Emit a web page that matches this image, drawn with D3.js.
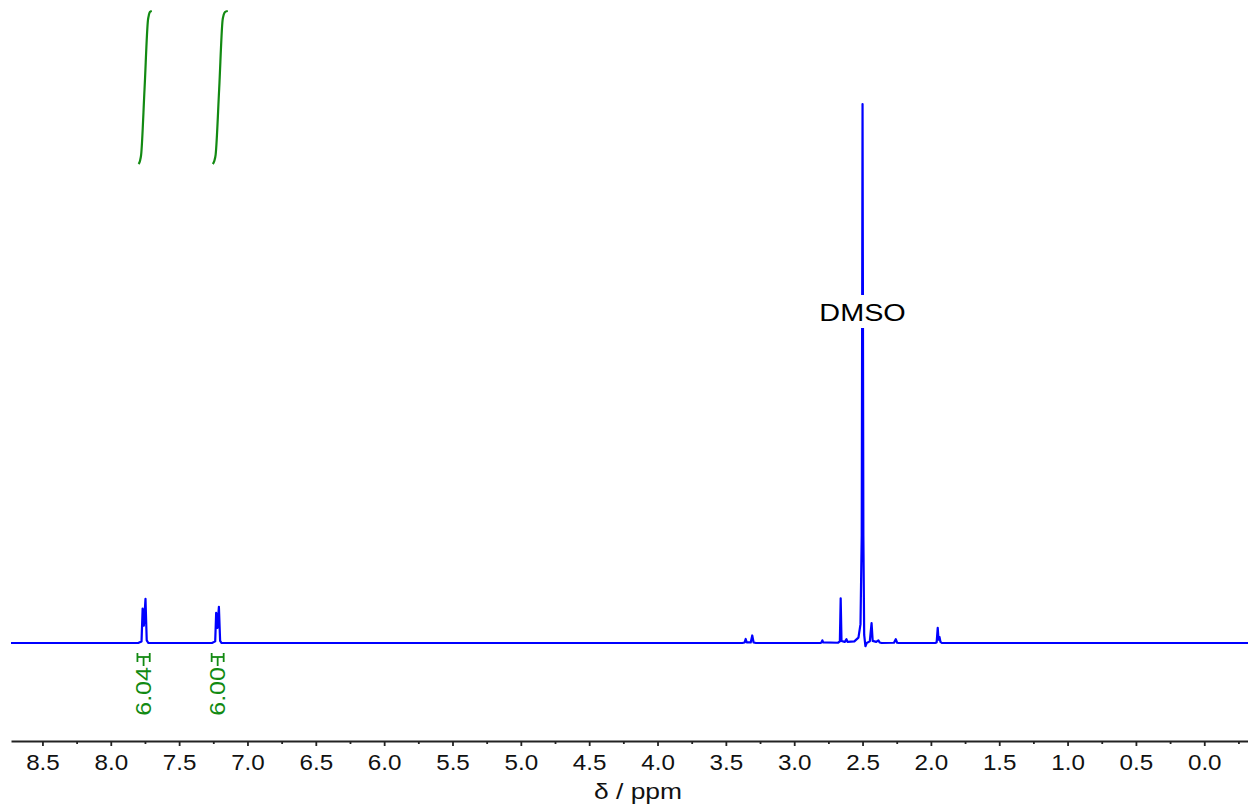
<!DOCTYPE html>
<html>
<head>
<meta charset="utf-8">
<script src="https://cdn.jsdelivr.net/npm/d3@7"></script>
<style>
  body { margin: 0; background: #fff; }
  text { font-family: "Liberation Sans", Arial, sans-serif; }
</style>
</head>
<body>
<svg id="chart" width="1248" height="807"></svg>
<script>
// spectrum points (ppm, intensity; DMSO peak = 100)
const specPpm = [8.73, 7.80, 7.775, 7.767, 7.758, 7.746, 7.737, 7.725,
  7.26, 7.236, 7.229, 7.220, 7.209, 7.200, 7.19,
  3.38, 3.363, 3.355, 3.347, 3.318, 3.307, 3.297, 3.28,
  2.81, 2.800, 2.794, 2.788,
  2.68, 2.666, 2.660, 2.654, 2.630, 2.618, 2.610,
  2.56, 2.53, 2.515, 2.506, 2.500, 2.494, 2.488, 2.479, 2.470,
  2.447, 2.434, 2.426, 2.40, 2.384, 2.375, 2.36,
  2.27, 2.257, 2.247, 2.235,
  1.97, 1.958, 1.950, 1.944, 1.937, 1.930, 1.92, -0.32];
const specInt = [0, 0, 0.3, 6.4, 3.2, 8.2, 0.5, 0,
  0, 0.3, 5.6, 2.8, 6.7, 0.4, 0,
  0, 0.1, 0.75, 0.1, 0.1, 1.4, 0.1, 0,
  0, 0.1, 0.5, 0.1,
  0.05, 0.3, 8.3, 0.4, 0.2, 0.7, 0.2,
  0.3, 1.0, 3.5, 20, 100, 20, 1.5, -0.6, 0,
  0.3, 3.7, 0.4, 0.2, 0.5, 0.1, 0,
  0.05, 0.7, 0.05, 0,
  0, 0.1, 2.8, 0.6, 1.1, 0.2, 0, 0];

// integral curves (fraction of the step)
const int1Ppm = [7.797, 7.791, 7.785, 7.778, 7.753, 7.728, 7.721, 7.714, 7.700];
const int2Ppm = [7.254, 7.248, 7.241, 7.233, 7.207, 7.182, 7.174, 7.165, 7.144];
const intShape = [0, 0.008, 0.025, 0.06, 0.49, 0.94, 0.975, 0.993, 1];

// integral labels
const intLabels = ["6.04", "6.00"];
const intFrom = [7.805, 7.262];
const intTo = [7.715, 7.174];

const majorTicks = [8.5, 8.0, 7.5, 7.0, 6.5, 6.0, 5.5, 5.0, 4.5, 4.0, 3.5, 3.0, 2.5, 2.0, 1.5, 1.0, 0.5, 0.0];
const minorTicks = [8.25, 7.75, 7.25, 6.75, 6.25, 5.75, 5.25, 4.75, 4.25, 3.75, 3.25, 2.75, 2.25, 1.75, 1.25, 0.75, 0.25, -0.25];

const blue = "#0000ff";
const green = "#128a12";

const svg = d3.select("#chart");

const x = d3.scaleLinear().domain([8.73, -0.32]).range([11, 1248]);
const y = d3.scaleLinear().domain([0, 100]).range([643, 104]);
const yInt = d3.scaleLinear().domain([0, 1]).range([164, 11]);

// spectrum
const spec = specPpm.map((p, i) => [p, specInt[i]]);
svg.append("path")
  .datum(spec)
  .attr("fill", "none")
  .attr("stroke", blue)
  .attr("stroke-width", 2.2)
  .attr("stroke-linejoin", "round")
  .attr("d", d3.line().x(d => x(d[0])).y(d => y(d[1])));

// DMSO label with white backing
const dms = svg.append("g").attr("transform", `translate(${x(2.5)},321)`);
dms.append("rect")
  .attr("x", -45).attr("y", -26)
  .attr("width", 90).attr("height", 33)
  .attr("fill", "#fff");
dms.append("text")
  .attr("text-anchor", "middle")
  .attr("transform", "scale(1.2,1)")
  .attr("font-size", 24)
  .attr("fill", "#000")
  .text("DMSO");

// integrals
const intLine = d3.line()
  .x(d => x(d[0]))
  .y(d => yInt(d[1]))
  .curve(d3.curveMonotoneX);
[int1Ppm, int2Ppm].forEach(ppm => {
  svg.append("path")
    .datum(ppm.map((p, i) => [p, intShape[i]]))
    .attr("fill", "none")
    .attr("stroke", green)
    .attr("stroke-width", 2.2)
    .attr("d", intLine);
});

// integral brackets + values
intLabels.forEach((lab, i) => {
  const x1 = x(intFrom[i]), x2 = x(intTo[i]);
  const cx = (x1 + x2) / 2;
  const g = svg.append("g").attr("stroke", green).attr("stroke-width", 1.8).attr("fill", "none");
  g.append("line").attr("x1", x1).attr("x2", x2).attr("y1", 657).attr("y2", 657);
  g.append("line").attr("x1", x1).attr("x2", x1).attr("y1", 653).attr("y2", 662);
  g.append("line").attr("x1", x2).attr("x2", x2).attr("y1", 653).attr("y2", 662);
  g.append("line").attr("x1", cx).attr("x2", cx).attr("y1", 657).attr("y2", 666);
  svg.append("text")
    .attr("transform", `translate(${cx + 7},667) rotate(-90) scale(1.14,1)`)
    .attr("text-anchor", "end")
    .attr("font-size", 22)
    .attr("fill", green)
    .text(lab);
});

// axis
const axisG = svg.append("g").attr("transform", "translate(0,741)");
axisG.call(d3.axisBottom(x).tickValues(majorTicks).tickSize(5).tickSizeOuter(0)
  .tickFormat(d3.format(".1f")));
axisG.select(".domain").attr("stroke", "#222").attr("stroke-width", 1.8);
axisG.selectAll(".tick line").attr("stroke", "#222").attr("stroke-width", 1.8);
axisG.selectAll(".tick text")
  .attr("y", 29).attr("dy", null)
  .attr("transform", "scale(1.1,1)")
  .attr("font-size", 22)
  .attr("font-family", "'Liberation Sans', Arial, sans-serif")
  .attr("fill", "#111");

const minorG = svg.append("g").attr("transform", "translate(0,741)");
minorG.call(d3.axisBottom(x).tickValues(minorTicks).tickSize(3).tickFormat(""));
minorG.select(".domain").remove();
minorG.selectAll(".tick line").attr("stroke", "#222").attr("stroke-width", 1.8);

svg.append("text")
  .attr("transform", "translate(638,799) scale(1.2,1)")
  .attr("text-anchor", "middle")
  .attr("font-size", 22)
  .attr("fill", "#111")
  .text("δ / ppm");
</script>
</body>
</html>
